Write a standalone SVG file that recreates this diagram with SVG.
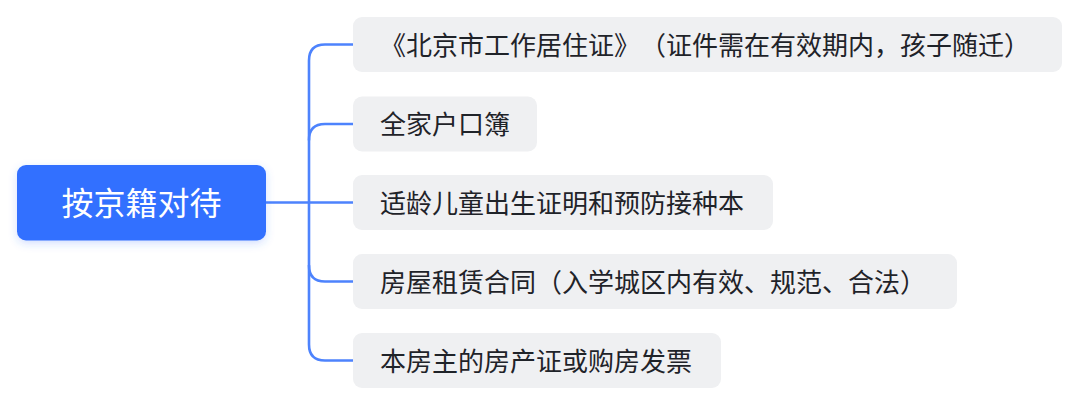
<svg xmlns="http://www.w3.org/2000/svg" width="1080" height="406" viewBox="0 0 1080 406">
  <defs>
    <filter id="sh" x="-20%" y="-40%" width="140%" height="180%">
      <feDropShadow dx="0" dy="3" stdDeviation="4" flood-color="#3370ff" flood-opacity="0.22"/>
    </filter>
    <style>
      text { text-spacing-trim: space-all; font-kerning: none; font-feature-settings: "chws" 0, "halt" 0, "palt" 0; }
      .child rect { fill: #eff0f2; }
      .child text { font-family: "Noto Sans CJK SC", "Noto Sans", sans-serif; font-size: 26px; fill: #1f2329; }
      .root rect { fill: #3370ff; }
      .root text { font-family: "Noto Sans CJK SC", "Noto Sans", sans-serif; font-size: 32px; fill: #ffffff; }
      .conn path { fill: none; stroke: #4d83fd; stroke-width: 2.6; stroke-linecap: round; }
    </style>
  </defs>
  <rect width="1080" height="406" fill="#ffffff"/>
  <g id="connectors" class="conn">
    <path d="M266,202.5 H354"/>
    <path d="M354,44.5 H325 Q309,44.5 309,60.5 V344.5 Q309,360.5 325,360.5 H354"/>
    <path d="M354,124 H325 Q309,124 309,140"/>
    <path d="M354,281.5 H325 Q309,281.5 309,265.5"/>
  </g>
  <g id="root" class="root">
    <rect x="17" y="165" width="249" height="75.5" rx="9" filter="url(#sh)"/>
    <text x="141.5" y="214.5" text-anchor="middle">按京籍对待</text>
  </g>
  <g id="n1" class="child">
    <rect x="353" y="17" width="709" height="55" rx="9"/>
    <text x="380" y="54.5">《北京市工作居住证》（证件需在有效期内，孩子随迁）</text>
  </g>
  <g id="n2" class="child">
    <rect x="353" y="96.5" width="184" height="55" rx="9"/>
    <text x="380" y="134">全家户口簿</text>
  </g>
  <g id="n3" class="child">
    <rect x="353" y="175" width="420" height="55" rx="9"/>
    <text x="380" y="212.5">适龄儿童出生证明和预防接种本</text>
  </g>
  <g id="n4" class="child">
    <rect x="353" y="254" width="604" height="55" rx="9"/>
    <text x="380" y="291.5">房屋租赁合同（入学城区内有效、规范、合法）</text>
  </g>
  <g id="n5" class="child">
    <rect x="353" y="333" width="368" height="55" rx="9"/>
    <text x="380" y="370.5">本房主的房产证或购房发票</text>
  </g>
</svg>
